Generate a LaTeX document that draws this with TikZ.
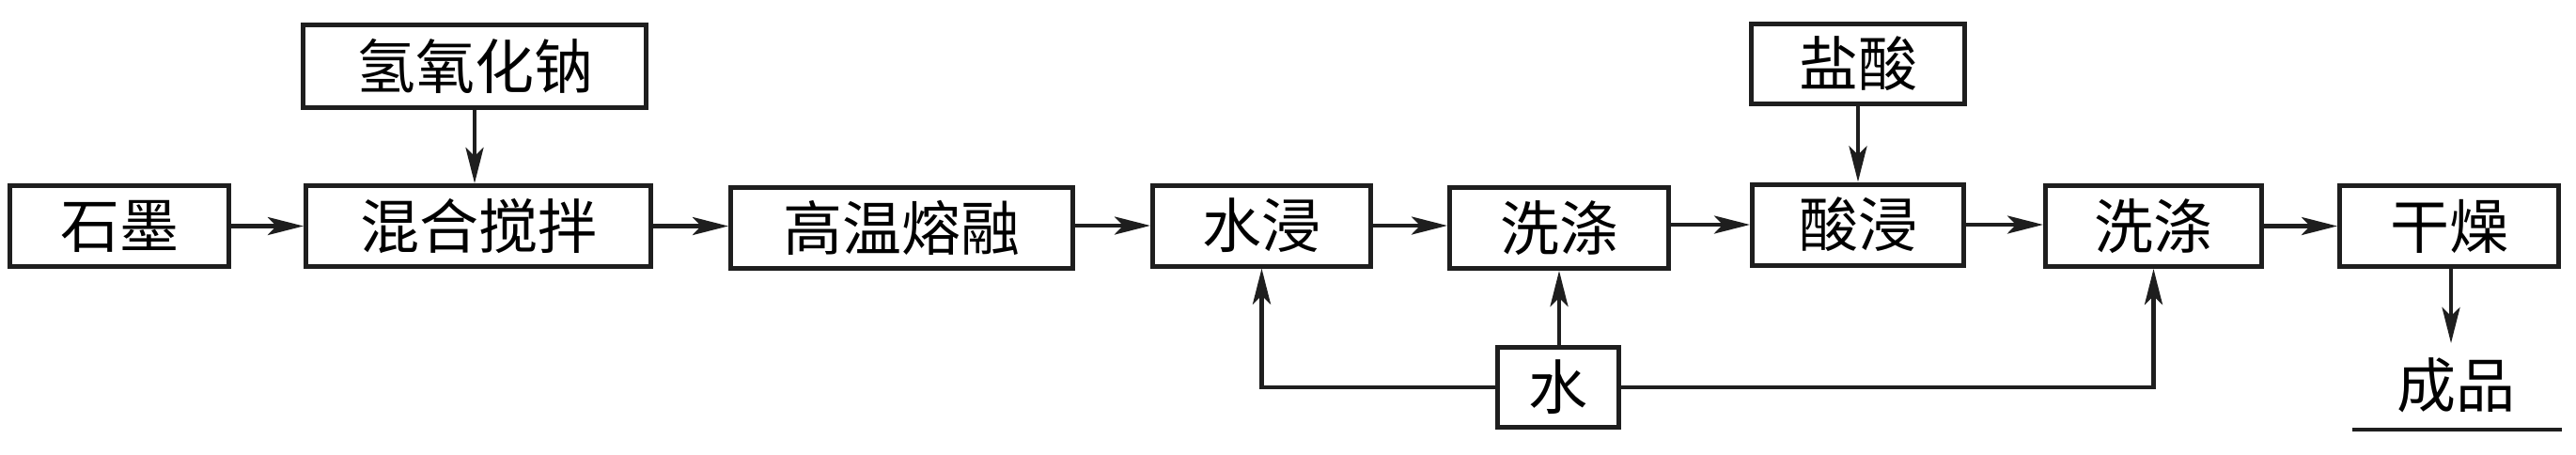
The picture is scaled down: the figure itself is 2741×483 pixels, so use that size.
\documentclass[tikz,border=0pt]{standalone}
\usepackage{fontspec}
\newfontfamily\cjk{Noto Sans CJK SC}
\usetikzlibrary{arrows.meta}
\definecolor{ink}{HTML}{1E1E1E}
\tikzset{
  procbox/.style={draw=ink, line width=5pt, inner sep=0pt, minimum height=86pt,
    font=\cjk\fontsize{63}{63}\selectfont, text=black},
  arr/.style={draw=ink, line width=4.5pt, -{Stealth[length=38pt,width=19pt,inset=9pt]}},
  plain/.style={draw=ink, line width=4.5pt},
}
\begin{document}
\begin{tikzpicture}[x=1pt,y=-1pt]
\useasboundingbox (0,0) rectangle (2741,483);
% main row
\node[procbox, minimum width=233pt] (shimo)  at (127,240.5)   {石墨};
\node[procbox, minimum width=367pt] (hunhe)  at (509,240.5)   {混合搅拌};
\node[procbox, minimum width=364pt] (gaowen) at (959.5,242)   {高温熔融};
\node[procbox, minimum width=232pt] (shuijin) at (1342.5,240) {水浸};
\node[procbox, minimum width=233pt] (xidia)  at (1659,242.5)  {洗涤};
\node[procbox, minimum width=225pt] (suanjin) at (1977,239)   {酸浸};
\node[procbox, minimum width=230pt] (xidib)  at (2291.5,240.5){洗涤};
\node[procbox, minimum width=233pt] (ganzao) at (2606,240.5)  {干燥};
% inputs
\node[procbox, minimum width=365pt, minimum height=88pt] (naoh) at (505,70.5) {氢氧化钠};
\node[procbox, minimum width=227pt, minimum height=85pt] (yansuan) at (1977,68) {盐酸};
\node[procbox, minimum width=129pt, minimum height=85pt] (shui) at (1658,412) {水};
% product
\node[font=\cjk\fontsize{63}{63}\selectfont, inner sep=0pt] (chengpin) at (2613,410) {成品};
\coordinate (cptop) at (2608,365);
\coordinate (ulA) at (2503,457);
\coordinate (ulB) at (2726,457);
% forward arrows
\draw[arr] (shimo.east) -- (hunhe.west);
\draw[arr] (hunhe.east) -- (gaowen.west |- hunhe.east);
\draw[arr] (gaowen.east |- shuijin.east) -- (shuijin.west);
\draw[arr] (shuijin.east) -- (xidia.west |- shuijin.east);
\draw[arr] (xidia.east |- suanjin.east) -- (suanjin.west);
\draw[arr] (suanjin.east) -- (xidib.west |- suanjin.east);
\draw[arr] (xidib.east) -- (ganzao.west);
\draw[arr] (naoh.south) -- (hunhe.north -| naoh.south);
\draw[arr] (yansuan.south) -- (suanjin.north);
\draw[arr] (ganzao.south -| cptop) -- (cptop);
% water loops
\draw[arr] (shui.west) -| (shuijin.south);
\draw[arr] (shui.north -| xidia.south) -- (xidia.south);
\draw[arr] (shui.east) -| (xidib.south);
% underline
\draw[plain] (ulA) -- (ulB);
\end{tikzpicture}
\end{document}
